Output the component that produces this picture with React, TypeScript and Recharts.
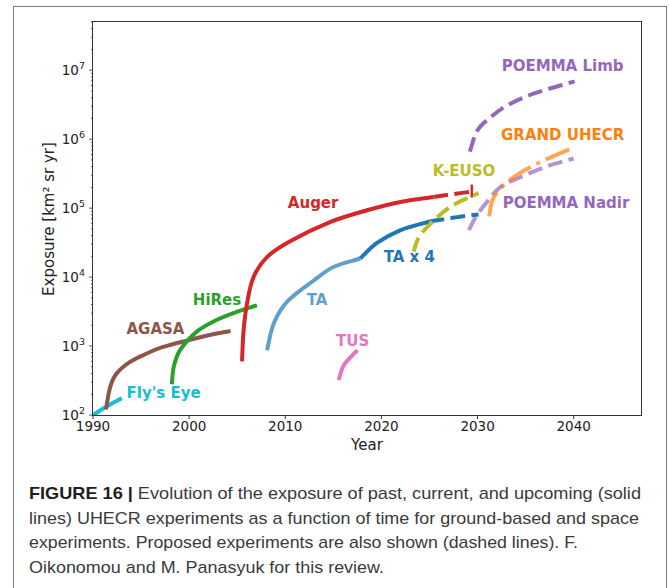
import { Line, LineChart, ReferenceDot, XAxis, YAxis } from "recharts";

// [year, exposure in km^2 sr yr]
const FLYS_EYE = [[1990, 100], [1991.5, 135], [1993, 175]];
const AGASA = [
  [1991.35, 121], [1991.8, 258], [1992.45, 400], [1993.85, 590], [1995.6, 780],
  [1997.3, 970], [2000.1, 1230], [2002.5, 1480], [2004.3, 1650],
];
const HIRES = [
  [1998.2, 280], [1998.4, 500], [1999.05, 870], [2000.8, 1620], [2002.9, 2400],
  [2005.0, 3150], [2007.05, 3900],
];
const AUGER = [
  [2005.5, 600], [2005.65, 1600], [2006.0, 4000], [2006.7, 10000], [2008.1, 19500],
  [2010.5, 33000], [2014.7, 63000], [2018.5, 93000], [2022.0, 123000], [2025.4, 145000],
];
const AUGER_PLANNED = [[2025.4, 145000], [2027.5, 160000], [2029.4, 174000]];
const TA = [
  [2008.1, 870], [2008.8, 2130], [2010.2, 4400], [2013.0, 9000], [2015.0, 14000],
  [2017.8, 18600],
];
const TA_X4 = [[2017.8, 18600], [2019.5, 31000], [2022.0, 48000], [2025.0, 64000]];
const TA_X4_PLANNED = [[2025.0, 64000], [2027.9, 74000], [2030.1, 81000]];
const TUS = [[2015.55, 320], [2016.1, 530], [2017.5, 870]];
const K_EUSO = [
  [2023.35, 23400], [2023.9, 38000], [2025.3, 63000], [2027.2, 105000], [2030.1, 166000],
];
const POEMMA_NADIR = [
  [2029.1, 48000], [2029.8, 74000], [2031.0, 124000], [2032.4, 204000], [2034.5, 283000],
  [2037.3, 408000], [2040.0, 525000],
];
const GRAND = [
  [2031.2, 76000], [2031.55, 131000], [2032.4, 194000], [2034.1, 303000], [2036.6, 470000],
  [2040.0, 760000],
];
const POEMMA_LIMB = [
  [2029.2, 660000], [2030.0, 1350000], [2031.4, 2100000], [2033.1, 3100000],
  [2035.9, 4600000], [2040.1, 6900000],
];

const X_TICKS = [1990, 2000, 2010, 2020, 2030, 2040];

// label text with anchor [year, exposure]
const LABEL_TEXT = ["POEMMA Limb", "GRAND UHECR", "K-EUSO", "POEMMA Nadir", "Auger", "TA x 4", "TA", "TUS", "HiRes", "AGASA", "Fly's Eye"];
const LABEL_AT = [
  [2038.85, 1.18e7], [2038.85, 1.18e6], [2028.6, 348000], [2039.2, 120000], [2012.9, 118000],
  [2022.9, 20000], [2013.3, 4660], [2017.0, 1200], [2002.9, 4660], [1996.5, 1770], [1997.35, 210],
];
const LABEL_COLOR = ["#9467bd", "#ff7f0e", "#bcbd22", "#9467bd", "#d62728", "#1f77b4", "#5f9fd0", "#e377c2", "#2ca02c", "#8c564b", "#17becf"];

const yTicks: number[] = [];
for (let e = 2; e <= 7; e++) {
  for (let m = 1; m <= 9; m++) {
    const v = m * Math.pow(10, e);
    if (v <= 5e7) yTicks.push(v);
  }
}

const toRows = (pts: number[][]) => pts.map(([year, exposure]) => ({ year, exposure }));

// smooth curve through the points: tangent = direction between neighbours,
// handle length = a third of the chord (works for near-vertical starts too)
function smoothCurve(context: any) {
  let pts: number[][] = [];
  const dir = (a: number[], b: number[]) => {
    const dx = b[0] - a[0];
    const dy = b[1] - a[1];
    const len = Math.hypot(dx, dy) || 1;
    return [dx / len, dy / len];
  };
  return {
    areaStart() {},
    areaEnd() {},
    lineStart() {
      pts = [];
    },
    point(x: number, y: number) {
      pts.push([+x, +y]);
    },
    lineEnd() {
      if (!pts.length) return;
      context.moveTo(pts[0][0], pts[0][1]);
      const n = pts.length;
      const tangents = pts.map((p, i) => dir(pts[Math.max(0, i - 1)], pts[Math.min(n - 1, i + 1)]));
      for (let i = 0; i < n - 1; i++) {
        const a = pts[i];
        const b = pts[i + 1];
        const h = Math.hypot(b[0] - a[0], b[1] - a[1]) / 3;
        context.bezierCurveTo(
          a[0] + tangents[i][0] * h,
          a[1] + tangents[i][1] * h,
          b[0] - tangents[i + 1][0] * h,
          b[1] - tangents[i + 1][1] * h,
          b[0],
          b[1],
        );
      }
    },
  };
}

const DASH = "14.8 6.4";
const DASH_DOT = "25.6 6.4 4 6.4";

const SERIES = [
  { key: "flys", pts: FLYS_EYE, color: "#17becf" },
  { key: "agasa", pts: AGASA, color: "#8c564b" },
  { key: "hires", pts: HIRES, color: "#2ca02c" },
  { key: "auger", pts: AUGER, color: "#d62728" },
  { key: "auger2", pts: AUGER_PLANNED, color: "#d62728", dash: DASH, endTick: true },
  { key: "ta", pts: TA, color: "#1f77b4", opacity: 0.7 },
  { key: "tax4", pts: TA_X4, color: "#1f77b4" },
  { key: "tax42", pts: TA_X4_PLANNED, color: "#1f77b4", dash: DASH },
  { key: "tus", pts: TUS, color: "#e377c2" },
  { key: "keuso", pts: K_EUSO, color: "#bcbd22", dash: DASH },
  { key: "nadir", pts: POEMMA_NADIR, color: "#9467bd", dash: DASH, opacity: 0.7 },
  { key: "grand", pts: GRAND, color: "#ff7f0e", dash: DASH_DOT, opacity: 0.7 },
  { key: "limb", pts: POEMMA_LIMB, color: "#9467bd", dash: DASH },
];

const FONT = "'DejaVu Sans', sans-serif";

function YTick(props: any) {
  const { x, y, payload } = props;
  const v = payload.value;
  const exp = Math.round(Math.log10(v));
  const major = Math.abs(v - Math.pow(10, exp)) < 1e-6 * v;
  return (
    <g>
      <line x1={x - (major ? 4 : 2)} x2={x} y1={y} y2={y} stroke="#333" strokeWidth={0.8} />
      {major && (
        <text x={x - 8} y={y + 5} textAnchor="end" fontSize={13.5} fontFamily={FONT} fill="#222">
          10
          <tspan fontSize={9.5} dy={-6}>{exp}</tspan>
        </text>
      )}
    </g>
  );
}

export default function App() {
  return (
    <div style={{ position: "absolute", left: 0, top: 0, width: 669, height: 588, background: "#fff", overflow: "hidden" }}>
      <div
        style={{
          position: "absolute", left: 13, top: 6, width: 654, height: 620,
          border: "1.5px solid #7a7a7a", boxSizing: "border-box",
        }}
      />
      <div style={{ position: "absolute", left: 0, top: 0 }}>
        <LineChart width={669} height={470} margin={{ top: 22, right: 28, bottom: 25, left: 33 }}>
          <XAxis
            dataKey="year"
            type="number"
            domain={[1990, 2047]}
            ticks={X_TICKS}
            allowDataOverflow
            axisLine={false}
            tickSize={4}
            tickMargin={2}
            height={30}
            tickLine={{ stroke: "#333" }}
            tick={{ fontSize: 13.5, fill: "#222", fontFamily: FONT }}
          />
          <YAxis
            type="number"
            scale="log"
            domain={[100, 5e7]}
            allowDataOverflow
            ticks={yTicks}
            interval={0}
            width={60}
            axisLine={false}
            tickLine={false}
            tickSize={0}
            tickMargin={0}
            tick={<YTick />}
          />
          {SERIES.map((s) => (
            <Line
              key={s.key}
              data={toRows(s.pts)}
              dataKey="exposure"
              type={smoothCurve as any}
              stroke={s.color}
              strokeOpacity={s.opacity ?? 1}
              strokeWidth={4}
              strokeDasharray={s.dash}
              dot={
                s.endTick
                  ? (p: any) =>
                      p.index === s.pts.length - 1 ? (
                        <line key={p.index} x1={p.cx} x2={p.cx} y1={p.cy - 7} y2={p.cy + 6} stroke={s.color} strokeWidth={2.5} />
                      ) : (
                        <g key={p.index} />
                      )
                  : false
              }
              activeDot={false}
              isAnimationActive={false}
            />
          ))}
          {LABEL_TEXT.map((t, i) => (
            <ReferenceDot
              key={t}
              x={LABEL_AT[i][0]}
              y={LABEL_AT[i][1]}
              r={0}
              fill="none"
              stroke="none"
              label={{
                value: t,
                position: "center",
                fill: LABEL_COLOR[i],
                fontSize: 15,
                fontWeight: "bold",
                fontFamily: FONT,
              }}
            />
          ))}
        </LineChart>
      </div>
      {/* plot frame */}
      <div
        style={{
          position: "absolute", left: 92, top: 21, width: 550, height: 395,
          border: "1px solid #333", boxSizing: "border-box", pointerEvents: "none",
        }}
      />
      <div
        style={{
          position: "absolute", left: 367, top: 445, transform: "translate(-50%, -50%)",
          fontFamily: FONT, fontSize: 15, color: "#222", whiteSpace: "nowrap",
        }}
      >
        Year
      </div>
      <div
        style={{
          position: "absolute", left: 49, top: 219, transform: "translate(-50%, -50%) rotate(-90deg)",
          fontFamily: FONT, fontSize: 15, color: "#222", whiteSpace: "nowrap",
        }}
      >
        Exposure [km² sr yr]
      </div>
      <svg width={669} height={118} style={{ position: "absolute", left: 0, top: 470 }}>
        <g fontFamily="'Liberation Sans', Arial, sans-serif" fontSize={17} fill="#3a3a3a">
          <text x={29} y={29} textLength={612} lengthAdjust="spacingAndGlyphs">
            <tspan fontWeight="bold" fill="#1e1e1e">FIGURE 16 | </tspan>
            Evolution of the exposure of past, current, and upcoming (solid
          </text>
          <text x={29} y={53.5} textLength={610} lengthAdjust="spacingAndGlyphs">
            lines) UHECR experiments as a function of time for ground-based and space
          </text>
          <text x={29} y={78} textLength={549} lengthAdjust="spacingAndGlyphs">
            experiments. Proposed experiments are also shown (dashed lines). F.
          </text>
          <text x={29} y={102.5} textLength={355} lengthAdjust="spacingAndGlyphs">
            Oikonomou and M. Panasyuk for this review.
          </text>
        </g>
      </svg>
    </div>
  );
}
